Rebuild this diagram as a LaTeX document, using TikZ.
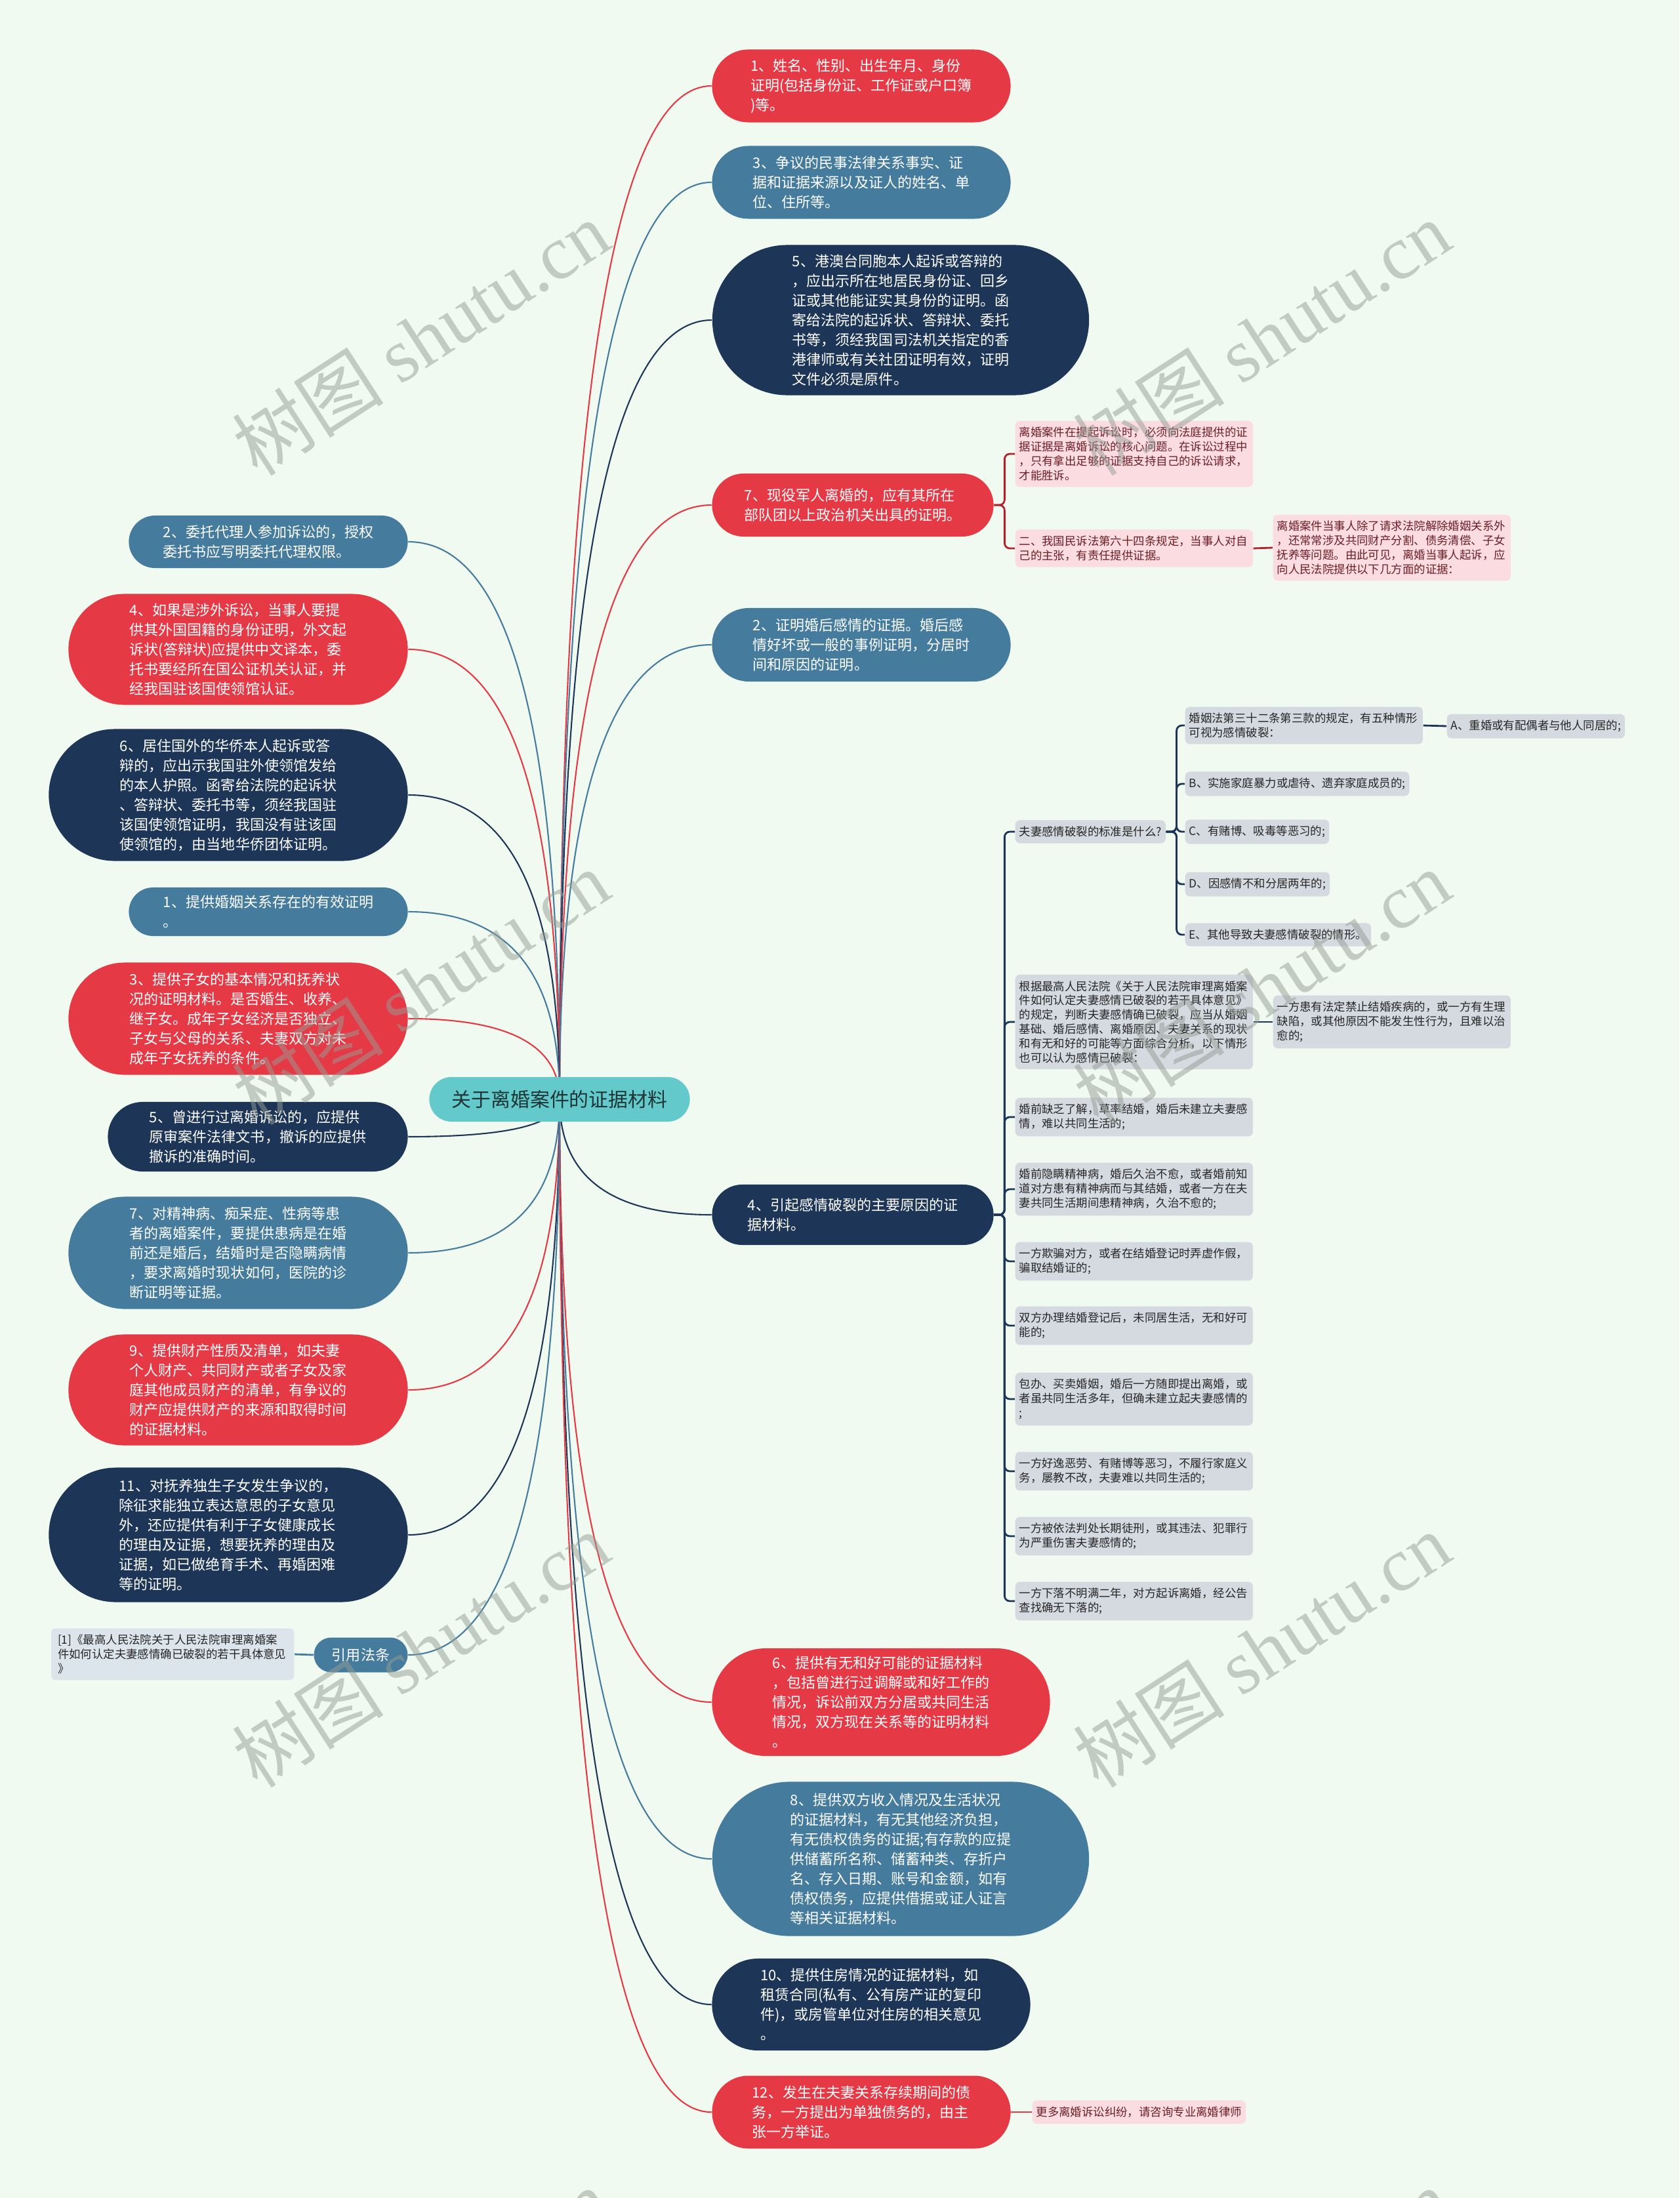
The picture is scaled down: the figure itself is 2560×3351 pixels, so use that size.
\documentclass[tikz,border=0pt]{standalone}
\usepackage{fontspec}
\setmainfont{Noto Sans CJK SC}
\newfontfamily\wmlatin{Liberation Serif}
\usetikzlibrary{positioning,calc,shapes.misc}
\definecolor{bgmint}{HTML}{F1FAF0}
\definecolor{hubteal}{HTML}{63C9CB}
\definecolor{hubtext}{HTML}{1F3636}
\definecolor{redfill}{HTML}{E63946}
\definecolor{bluefill}{HTML}{457B9D}
\definecolor{navyfill}{HTML}{1D3557}
\definecolor{pinkfill}{HTML}{FBDCE0}
\definecolor{pinktext}{HTML}{6B1E26}
\definecolor{pinkline}{HTML}{B3222F}
\definecolor{grayfill}{HTML}{D5D9E0}
\definecolor{graytext}{HTML}{262626}
\definecolor{notefill}{HTML}{DCE4EC}
\definecolor{marktext}{HTML}{959D95}

\pgfdeclarelayer{bg}
\pgfdeclarelayer{lines}
\pgfsetlayers{bg,lines,main}

\newcommand{\mainsize}{\fontsize{6.26pt}{8.54pt}\selectfont}
\newcommand{\smallsize}{\fontsize{4.95pt}{6.2pt}\selectfont}
\newcommand{\hubsize}{\fontsize{8.5pt}{10pt}\selectfont}
\newcommand{\marksize}{\fontsize{33pt}{33pt}\selectfont}

\tikzset{dims/.style 2 args={minimum width=#1cm,minimum height=#2cm}}

% curve from the hub to a branch anchor
\newcommand{\branch}[2]{%
  \draw[branchline,#1] (c.center) .. controls ($(c.center)!0.667!(c.center |- #2)$) and ($(#2)!0.667!(c.center |- #2)$) .. (#2);}

\begin{document}
\begin{tikzpicture}[x=0.01cm,y=-0.01cm,
    pill/.style={rounded rectangle,inner sep=0pt,align=left,text=white,font=\mainsize},
    redpill/.style={pill,fill=redfill},
    bluepill/.style={pill,fill=bluefill},
    navypill/.style={pill,fill=navyfill},
    hub/.style={rounded rectangle,inner sep=0pt,fill=hubteal,text=hubtext,font=\hubsize,minimum width=3.97cm,minimum height=0.68cm},
    smallbox/.style={rectangle,rounded corners=0.07cm,font=\smallsize,align=left,inner xsep=0.06cm,inner ysep=0.095cm,anchor=west},
    pinkbox/.style={smallbox,fill=pinkfill,text=pinktext},
    graybox/.style={smallbox,fill=grayfill,text=graytext},
    notebox/.style={smallbox,fill=notefill,text=graytext,inner xsep=0.1cm,anchor=east},
    wrap/.style={text width=3.5cm},
    branchline/.style={line width=0.6pt},
    subline/.style={line width=0.8pt,rounded corners=0.08cm},
    stamp/.style={rotate=33,text=marktext,text opacity=0.5,font=\marksize}]

  \begin{pgfonlayer}{bg}
    \fill[bgmint] (0,0) rectangle (2560,3351);
  \end{pgfonlayer}
  \useasboundingbox (0,0) rectangle (2560,3351);

  % hub
  \node[hub] (c) at (853,1676) {关于离婚案件的证据材料};

  % right branches
  \node[redpill,dims={4.55}{1.11}] (r1) at (1313,131) {1、姓名、性别、出生年月、身份\\证明(包括身份证、工作证或户口簿\\)等。};
  \node[bluepill,dims={4.55}{1.11}] (r3) at (1313,278) {3、争议的民事法律关系事实、证\\据和证据来源以及证人的姓名、单\\位、住所等。};
  \node[navypill,dims={5.74}{2.29}] (r5) at (1373,488) {5、港澳台同胞本人起诉或答辩的\\，应出示所在地居民身份证、回乡\\证或其他能证实其身份的证明。函\\寄给法院的起诉状、答辩状、委托\\书等，须经我国司法机关指定的香\\港律师或有关社团证明有效，证明\\文件必须是原件。};
  \node[redpill,dims={4.29}{0.96}] (r7) at (1300,770) {7、现役军人离婚的，应有其所在\\部队团以上政治机关出具的证明。};
  \node[bluepill,dims={4.55}{1.12}] (r2) at (1313,983) {2、证明婚后感情的证据。婚后感\\情好坏或一般的事例证明，分居时\\间和原因的证明。};
  \node[navypill,dims={4.29}{0.92}] (r4) at (1300,1852) {4、引起感情破裂的主要原因的证\\据材料。};
  \node[redpill,dims={5.15}{1.64}] (r6) at (1343,2595) {6、提供有无和好可能的证据材料\\，包括曾进行过调解或和好工作的\\情况，诉讼前双方分居或共同生活\\情况，双方现在关系等的证明材料\\。};
  \node[bluepill,dims={5.74}{2.35}] (r8) at (1373,2834) {8、提供双方收入情况及生活状况\\的证据材料，有无其他经济负担，\\有无债权债务的证据;有存款的应提\\供储蓄所名称、储蓄种类、存折户\\名、存入日期、账号和金额，如有\\债权债务，应提供借据或证人证言\\等相关证据材料。};
  \node[navypill,dims={4.85}{1.40}] (r10) at (1328,3056) {10、提供住房情况的证据材料，如\\租赁合同(私有、公有房产证的复印\\件)，或房管单位对住房的相关意见\\。};
  \node[redpill,dims={4.55}{1.11}] (r12) at (1313,3220) {12、发生在夫妻关系存续期间的债\\务，一方提出为单独债务的，由主\\张一方举证。};

  % left branches
  \node[bluepill,dims={4.25}{0.80}] (l2) at (409,826) {2、委托代理人参加诉讼的，授权\\委托书应写明委托代理权限。};
  \node[redpill,dims={5.17}{1.69}] (l4) at (363,990) {4、如果是涉外诉讼，当事人要提\\供其外国国籍的身份证明，外文起\\诉状(答辩状)应提供中文译本，委\\托书要经所在国公证机关认证，并\\经我国驻该国使领馆认证。};
  \node[navypill,dims={5.47}{2.01}] (l6) at (348,1212) {6、居住国外的华侨本人起诉或答\\辩的，应出示我国驻外使领馆发给\\的本人护照。函寄给法院的起诉状\\、答辩状、委托书等，须经我国驻\\该国使领馆证明，我国没有驻该国\\使领馆的，由当地华侨团体证明。};
  \node[bluepill,dims={4.25}{0.74}] (l1) at (409,1390) {1、提供婚姻关系存在的有效证明\\。};
  \node[redpill,dims={5.17}{1.71}] (l3) at (363,1553) {3、提供子女的基本情况和抚养状\\况的证明材料。是否婚生、收养、\\继子女。成年子女经济是否独立、\\子女与父母的关系、夫妻双方对未\\成年子女抚养的条件。};
  \node[navypill,dims={4.57}{1.06}] (l5) at (393,1733) {5、曾进行过离婚诉讼的，应提供\\原审案件法律文书，撤诉的应提供\\撤诉的准确时间。};
  \node[bluepill,dims={5.17}{1.71}] (l7) at (363,1910) {7、对精神病、痴呆症、性病等患\\者的离婚案件，要提供患病是在婚\\前还是婚后，结婚时是否隐瞒病情\\，要求离婚时现状如何，医院的诊\\断证明等证据。};
  \node[redpill,dims={5.17}{1.69}] (l9) at (363,2119) {9、提供财产性质及清单，如夫妻\\个人财产、共同财产或者子女及家\\庭其他成员财产的清单，有争议的\\财产应提供财产的来源和取得时间\\的证据材料。};
  \node[navypill,dims={5.47}{2.05}] (l11) at (348,2340) {11、对抚养独生子女发生争议的，\\除征求能独立表达意思的子女意见\\外，还应提供有利于子女健康成长\\的理由及证据，想要抚养的理由及\\证据，如已做绝育手术、再婚困难\\等的证明。};
  \node[bluepill,dims={1.43}{0.53}] (lref) at (550,2523) {引用法条};
  \node[notebox,wrap] (note) at (449,2522) {[1]《最高人民法院关于人民法院审理离婚案\\件如何认定夫妻感情确已破裂的若干具体意见\\》};

  % notes under 7
  \node[pinkbox,wrap] (p1) at (1547,692) {离婚案件在提起诉讼时，必须向法庭提供的证\\据证据是离婚诉讼的核心问题。在诉讼过程中\\，只有拿出足够的证据支持自己的诉讼请求，\\才能胜诉。};
  \node[pinkbox,wrap] (p2) at (1547,836) {二、我国民诉法第六十四条规定，当事人对自\\己的主张，有责任提供证据。};
  \node[pinkbox,wrap] (p3) at (1940,835) {离婚案件当事人除了请求法院解除婚姻关系外\\，还常常涉及共同财产分割、债务清偿、子女\\抚养等问题。由此可见，离婚当事人起诉，应\\向人民法院提供以下几方面的证据：};

  % details under 4
  \node[graybox] (g0) at (1547,1268) {夫妻感情破裂的标准是什么?};
  \node[graybox,wrap] (g0a) at (1806,1106) {婚姻法第三十二条第三款的规定，有五种情形\\可视为感情破裂：};
  \node[graybox] (ga) at (2205,1107) {A、重婚或有配偶者与他人同居的;};
  \node[graybox] (gb) at (1806,1195) {B、实施家庭暴力或虐待、遗弃家庭成员的;};
  \node[graybox] (gc) at (1806,1268) {C、有赌博、吸毒等恶习的;};
  \node[graybox] (gd) at (1806,1348) {D、因感情不和分居两年的;};
  \node[graybox] (ge) at (1806,1425) {E、其他导致夫妻感情破裂的情形。};
  \node[graybox,wrap] (g1) at (1547,1558) {根据最高人民法院《关于人民法院审理离婚案\\件如何认定夫妻感情已破裂的若干具体意见》\\的规定，判断夫妻感情确已破裂，应当从婚姻\\基础、婚后感情、离婚原因、夫妻关系的现状\\和有无和好的可能等方面综合分析，以下情形\\也可以认为感情已破裂：};
  \node[graybox,wrap] (g1a) at (1940,1558) {一方患有法定禁止结婚疾病的，或一方有生理\\缺陷，或其他原因不能发生性行为，且难以治\\愈的;};
  \node[graybox,wrap] (g2) at (1547,1703) {婚前缺乏了解，草率结婚，婚后未建立夫妻感\\情，难以共同生活的;};
  \node[graybox,wrap] (g3) at (1547,1813) {婚前隐瞒精神病，婚后久治不愈，或者婚前知\\道对方患有精神病而与其结婚，或者一方在夫\\妻共同生活期间患精神病，久治不愈的;};
  \node[graybox,wrap] (g4) at (1547,1923) {一方欺骗对方，或者在结婚登记时弄虚作假，\\骗取结婚证的;};
  \node[graybox,wrap] (g5) at (1547,2021) {双方办理结婚登记后，未同居生活，无和好可\\能的;};
  \node[graybox,wrap] (g6) at (1547,2133) {包办、买卖婚姻，婚后一方随即提出离婚，或\\者虽共同生活多年，但确未建立起夫妻感情的\\;};
  \node[graybox,wrap] (g7) at (1547,2243) {一方好逸恶劳、有赌博等恶习，不履行家庭义\\务，屡教不改，夫妻难以共同生活的;};
  \node[graybox,wrap] (g8) at (1547,2342) {一方被依法判处长期徒刑，或其违法、犯罪行\\为严重伤害夫妻感情的;};
  \node[graybox,wrap] (g9) at (1547,2441) {一方下落不明满二年，对方起诉离婚，经公告\\查找确无下落的;};

  \node[pinkbox] (p4) at (1573,3220) {更多离婚诉讼纠纷，请咨询专业离婚律师};

  \begin{pgfonlayer}{lines}
    \branch{redfill}{r1.west}
    \branch{bluefill}{r3.west}
    \branch{navyfill}{r5.west}
    \branch{redfill}{r7.west}
    \branch{bluefill}{r2.west}
    \branch{navyfill}{r4.west}
    \branch{redfill}{r6.west}
    \branch{bluefill}{r8.west}
    \branch{navyfill}{r10.west}
    \branch{redfill}{r12.west}
    \branch{bluefill}{l2.east}
    \branch{redfill}{l4.east}
    \branch{navyfill}{l6.east}
    \branch{bluefill}{l1.east}
    \branch{redfill}{l3.east}
    \branch{navyfill}{l5.east}
    \branch{bluefill}{l7.east}
    \branch{redfill}{l9.east}
    \branch{navyfill}{l11.east}
    \branch{bluefill}{lref.east}

    \draw[subline,pinkline] (r7.east) -- ++(16,0) |- (p1.west);
    \draw[subline,pinkline] (r7.east) -- ++(16,0) |- (p2.west);
    \draw[subline,pinkline] (p2.east) -- (p3.west);
    \foreach \k in {g0,g1,g2,g3,g4,g5,g6,g7,g8,g9}
      \draw[subline,navyfill] (r4.east) -- ++(16,0) |- (\k.west);
    \foreach \k in {g0a,gb,gc,gd,ge}
      \draw[subline,navyfill] (g0.east) -- ++(16,0) |- (\k.west);
    \draw[subline,navyfill] (g0a.east) -- (ga.west);
    \draw[subline,navyfill] (g1.east) -- (g1a.west);
    \draw[subline,redfill] (r12.east) -- (p4.west);
    \draw[subline,bluefill] (lref.west) -- (note.east);
  \end{pgfonlayer}

  % watermark
  \begin{scope}
    \clip (0,0) rectangle (2560,3351);
    \foreach \wx/\wy in {641/515,1923/515,641/1505,1923/1505,641/2515,1923/2515,641/3515,1923/3515}
      \node[stamp] (wm) at (\wx,\wy) {树图 {\wmlatin shutu.cn}};
  \end{scope}
\end{tikzpicture}
\end{document}
